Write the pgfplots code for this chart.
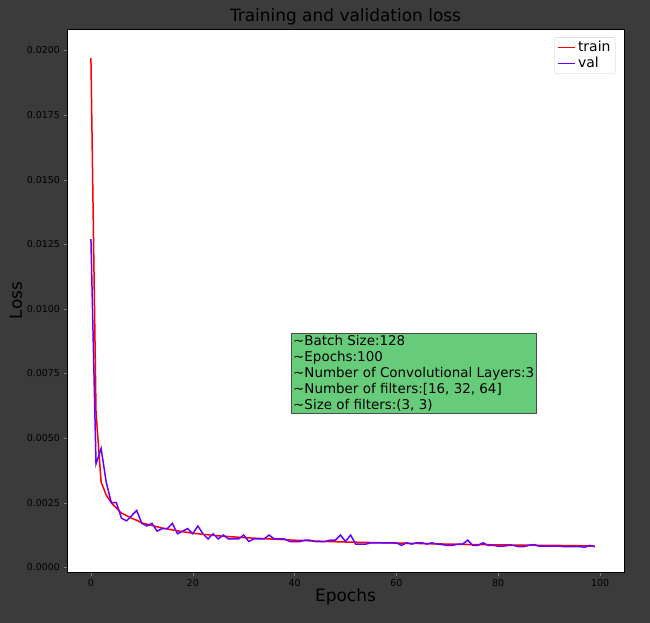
\documentclass[border=0pt]{standalone}
\usepackage{pgfplots}
\pgfplotsset{compat=1.18}
\usepackage{fontspec}
\setmainfont{DejaVu Sans}
\definecolor{bg}{HTML}{3B3B3B}
\definecolor{box}{HTML}{66CC7A}
\definecolor{valc}{HTML}{6600FF}
\begin{document}
\begin{tikzpicture}
\fill[bg] (0,0) rectangle (650bp,623bp);
\begin{axis}[at={(67bp,51bp)},anchor=south west,scale only axis,
 width=557bp,height=543bp,
 xmin=-4.7,xmax=104.7,ymin=-0.00018,ymax=0.02083,
 axis background/.style={fill=white},
 xtick={0,20,40,60,80,100},
 ytick={0,0.0025,0.005,0.0075,0.01,0.0125,0.015,0.0175,0.02},
 yticklabel style={/pgf/number format/.cd,fixed,precision=4,zerofill},
 scaled y ticks=false,
 /pgf/number format/assume math mode=true,
 ticklabel style={font=\fontsize{9.5}{11}\selectfont},
 tick align=outside, tick pos=left, major tick length=3.5bp,
 title={\fontsize{17}{19}\selectfont Training and validation loss},
 title style={yshift=-6bp},
 xlabel={\fontsize{17}{19}\selectfont Epochs},
 ylabel={\fontsize{17}{19}\selectfont Loss},
 xlabel style={yshift=4bp}, ylabel style={yshift=-2bp},
 legend style={at={(0.985,0.985)},anchor=north east,font=\fontsize{14}{16}\selectfont,draw=black!20,rounded corners=2pt},
 legend cell align=left,
]
\addplot[color=red,line width=1.5bp] coordinates {(0,0.0197)(1,0.0060)(2,0.0033)(3,0.0028)(4,0.0025)(5,0.0023)(6,0.0021)(7,0.0020)(8,0.0019)(9,0.00182)(10,0.00172)(12,0.00162)(14,0.00152)(16,0.00145)(18,0.00138)(20,0.00132)(25,0.00122)(30,0.00115)(35,0.0011)(40,0.00105)(45,0.00101)(50,0.00098)(55,0.00096)(60,0.00094)(65,0.00092)(70,0.0009)(75,0.00088)(80,0.00087)(85,0.00086)(90,0.00085)(95,0.00084)(99,0.00082)};
\addlegendentry{train}
\addplot[color=valc,line width=1.5bp] coordinates {(0,0.0127)(1,0.0040)(2,0.0046)(3,0.0033)(4,0.0025)(5,0.0025)(6,0.0019)(7,0.0018)(8,0.0020)(9,0.0022)(10,0.0017)(11,0.0016)(12,0.0017)(13,0.0014)(14,0.0015)(15,0.0015)(16,0.0017)(17,0.0013)(18,0.0014)(19,0.0015)(20,0.0013)(21,0.0016)(22,0.0013)(23,0.0011)(24,0.0013)(25,0.0011)(26,0.00125)(27,0.0011)(28,0.0011)(29,0.0011)(30,0.00125)(31,0.001)(32,0.0011)(33,0.0011)(34,0.0011)(35,0.00125)(36,0.0011)(37,0.0011)(38,0.0011)(39,0.001)(40,0.001)(41,0.001)(42,0.00105)(43,0.00105)(44,0.001)(45,0.001)(46,0.001)(47,0.00105)(48,0.00105)(49,0.00125)(50,0.001)(51,0.00125)(52,0.0009)(53,0.0009)(54,0.0009)(55,0.00095)(56,0.00095)(57,0.00095)(58,0.00095)(59,0.00095)(60,0.00095)(61,0.00085)(62,0.00095)(63,0.0009)(64,0.00095)(65,0.00095)(66,0.0009)(67,0.00095)(68,0.0009)(69,0.00088)(70,0.00085)(71,0.00085)(72,0.0009)(73,0.0009)(74,0.00105)(75,0.00085)(76,0.00085)(77,0.00095)(78,0.00085)(79,0.00085)(80,0.00082)(81,0.00082)(82,0.00085)(83,0.00085)(84,0.0008)(85,0.0008)(86,0.00085)(87,0.00088)(88,0.00082)(89,0.00082)(90,0.00082)(91,0.00082)(92,0.00082)(93,0.0008)(94,0.0008)(95,0.0008)(96,0.0008)(97,0.00078)(98,0.00085)(99,0.0008)};
\addlegendentry{val}
\node[anchor=north west,fill=box,draw=black!70,inner sep=2bp,align=left,font=\fontsize{13.5}{16.2}\selectfont] at (axis cs:39.3,0.00908) {\textasciitilde Batch Size:128\\\textasciitilde Epochs:100\\\textasciitilde Number of Convolutional Layers:3\\\textasciitilde Number of filters:[16, 32, 64]\\\textasciitilde Size of filters:(3, 3)};
\end{axis}
\end{tikzpicture}
\end{document}
